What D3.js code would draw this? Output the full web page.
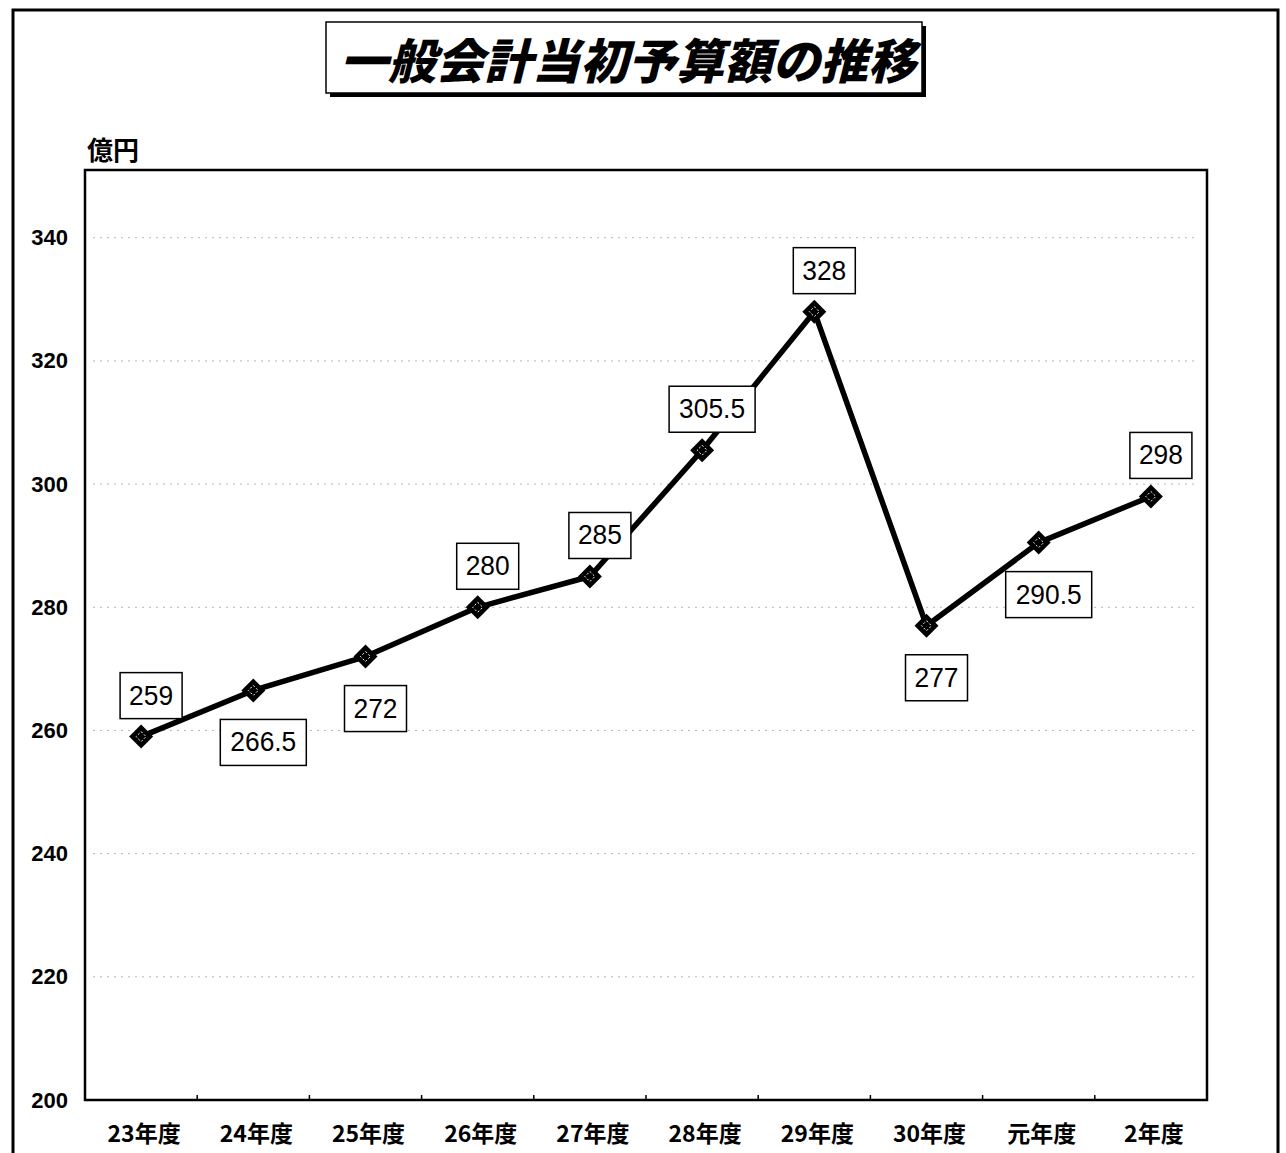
<!DOCTYPE html>
<html>
<head>
<meta charset="utf-8">
<script src="https://cdn.jsdelivr.net/npm/d3@7"></script>
<style>
body { margin:0; background:#fff; }
svg text { font-family: "Liberation Sans", Arial, "Noto Sans CJK JP", sans-serif; font-weight:bold; }
</style>
</head>
<body>
<svg></svg>
<script>
var years = ["23年度","24年度","25年度","26年度","27年度","28年度","29年度","30年度","元年度","2年度"];
var budget = [259, 266.5, 272, 280, 285, 305.5, 328, 277, 290.5, 298];
var labelSide = ["above","below","below","above","above","above","above","below","below","above"];
var yTicks = [200, 220, 240, 260, 280, 300, 320, 340];

var screen = { width:1286, height:1153 };
var svg = d3.select("svg")
            .attr("width", screen.width)
            .attr("height", screen.height);

// outer frame
svg.append("path")
   .attr("d", "M13,1153 L13,10 L1278,10 L1278,1153")
   .attr("fill", "none")
   .attr("stroke", "#000")
   .attr("stroke-width", 3);

// title box with shadow
svg.append("rect").attr("x", 330).attr("y", 26).attr("width", 596).attr("height", 71).attr("fill", "#000");
svg.append("rect").attr("x", 326).attr("y", 22).attr("width", 596).attr("height", 71)
   .attr("fill", "#fff").attr("stroke", "#000").attr("stroke-width", 1.5);
svg.append("text")
   .attr("transform", "translate(628,79) skewX(-14)")
   .attr("text-anchor", "middle")
   .style("font-family", "'Noto Sans CJK JP', sans-serif")
   .style("font-weight", "900")
   .style("font-size", "48px")
   .text("一般会計当初予算額の推移");

var margins = { top:170, bottom:53, left:85, right:79 };
var width = screen.width - margins.left - margins.right;
var height = screen.height - margins.top - margins.bottom;

var xScale = d3.scaleBand()
               .domain(years)
               .range([0, width]);

var yScale = d3.scaleLinear()
               .domain([200, 351])
               .range([height, 0]);

var plot = svg.append("g")
              .attr("transform", "translate(" + margins.left + "," + margins.top + ")");

// gridlines
plot.selectAll(".grid")
    .data(yTicks.filter(function(d) { return d > 200; }))
    .enter()
    .append("line")
    .attr("x1", 8)
    .attr("x2", width - 8)
    .attr("y1", function(d) { return yScale(d); })
    .attr("y2", function(d) { return yScale(d); })
    .attr("stroke", "#b5b5b5")
    .attr("stroke-width", 1)
    .attr("stroke-dasharray", "2,5");

// plot frame
plot.append("rect")
    .attr("width", width)
    .attr("height", height)
    .attr("fill", "none")
    .attr("stroke", "#000")
    .attr("stroke-width", 2.5);

var xAxis = d3.axisBottom(xScale).tickSize(0).tickPadding(26);
var gx = plot.append("g")
             .attr("transform", "translate(0," + height + ")")
             .call(xAxis);
gx.select(".domain").remove();
gx.selectAll("text")
  .style("font-size", "23px")
  .style("font-family", "'Noto Sans CJK JP', sans-serif")
  .style("font-weight", "bold")
  .attr("dx", 3);

// small ticks between categories on bottom edge
plot.selectAll(".xtick")
    .data(years.slice(1))
    .enter()
    .append("line")
    .attr("x1", function(d) { return xScale(d); })
    .attr("x2", function(d) { return xScale(d); })
    .attr("y1", height)
    .attr("y2", height - 5)
    .attr("stroke", "#000")
    .attr("stroke-width", 1.5);

var yAxis = d3.axisLeft(yScale).tickValues(yTicks).tickSize(0).tickPadding(17);
var gy = plot.append("g").call(yAxis);
gy.select(".domain").remove();
gy.selectAll("text").style("font-size", "22px");

svg.append("text")
   .attr("x", 87)
   .attr("y", 160)
   .style("font-family", "'Noto Sans CJK JP', sans-serif")
   .style("font-weight", "bold")
   .style("font-size", "26px")
   .text("億円");

var cx = function(i) { return xScale(years[i]) + xScale.bandwidth() / 2; };

var line = d3.line()
             .x(function(d, i) { return cx(i); })
             .y(function(d) { return yScale(d); });

plot.append("path")
    .datum(budget)
    .attr("d", line)
    .attr("fill", "none")
    .attr("stroke", "#000")
    .attr("stroke-width", 5.5)
    .attr("stroke-linejoin", "round");

// diamond markers
var markers = plot.selectAll(".marker")
    .data(budget)
    .enter()
    .append("g")
    .attr("transform", function(d, i) { return "translate(" + cx(i) + "," + yScale(d) + ")"; });
markers.append("path")
       .attr("d", "M0,-12 L12,0 L0,12 L-12,0 Z")
       .attr("fill", "#000");
markers.append("path")
       .attr("d", "M0,-5 L5,0 L0,5 L-5,0 Z")
       .attr("fill", "none")
       .attr("stroke", "#fff")
       .attr("stroke-width", 1)
       .attr("stroke-dasharray", "2,2");

// value labels
var labels = plot.selectAll(".lbl")
    .data(budget)
    .enter()
    .append("g")
    .attr("transform", function(d, i) {
      var dy = labelSide[i] == "above" ? -41 : 52;
      return "translate(" + (cx(i) + 10) + "," + (yScale(d) + dy) + ")";
    });
labels.append("rect")
      .attr("x", function(d) { return String(d).length > 3 ? -43 : -31; })
      .attr("y", -23)
      .attr("width", function(d) { return String(d).length > 3 ? 86 : 62; })
      .attr("height", 46)
      .attr("fill", "#fff")
      .attr("stroke", "#000")
      .attr("stroke-width", 1.5);
labels.append("text")
      .attr("text-anchor", "middle")
      .attr("y", 9)
      .attr("textLength", function(d) { return String(d).length > 3 ? 66 : 44; })
      .attr("lengthAdjust", "spacingAndGlyphs")
      .style("font-weight", "normal")
      .style("font-size", "27px")
      .text(function(d) { return d; });
</script>
</body>
</html>
